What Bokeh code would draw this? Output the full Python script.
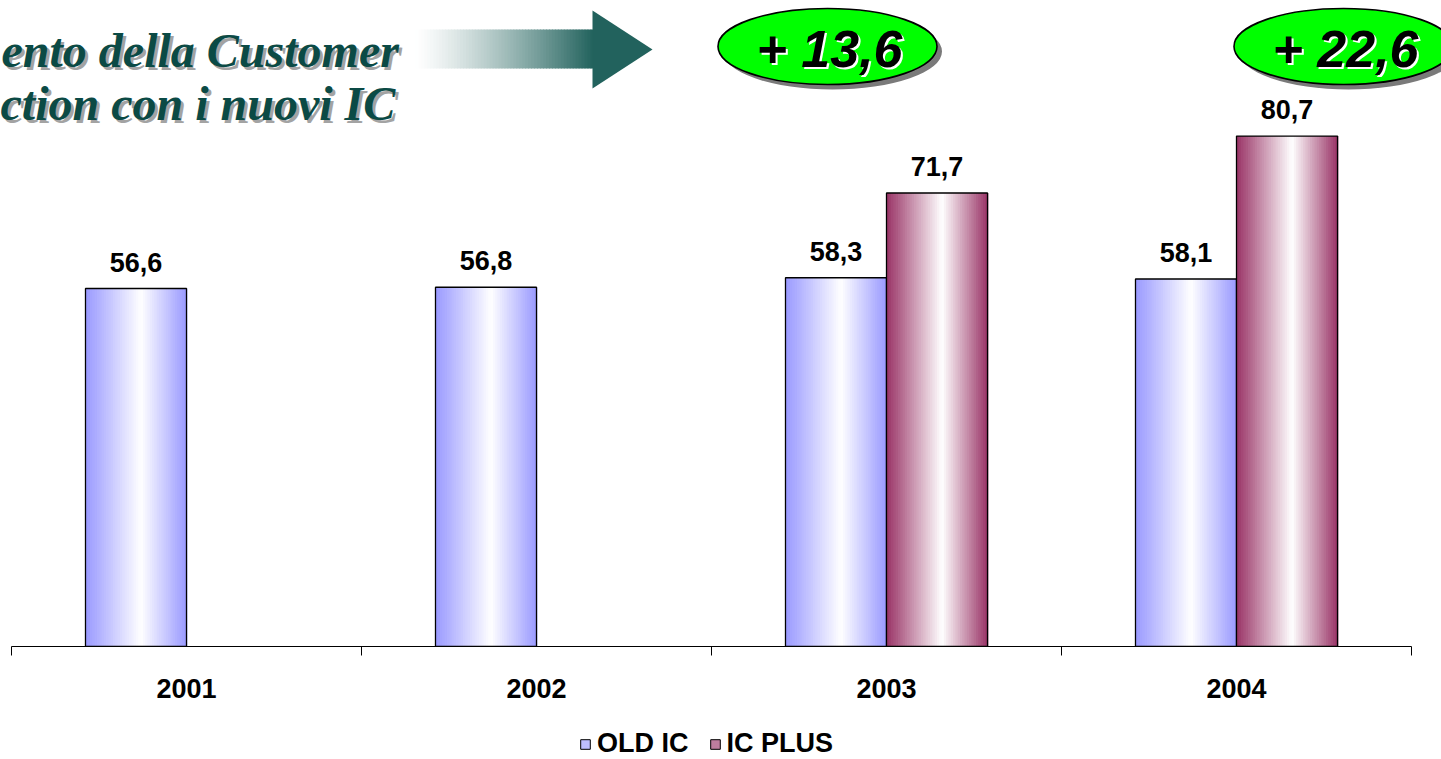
import numpy as np
from bokeh.plotting import figure
from bokeh.layouts import column
from bokeh.models import Range1d, LinearAxis, FixedTicker, Legend, LegendItem
from bokeh.core.properties import value
from bokeh.embed import file_html
from bokeh.resources import INLINE

# ---- data -------------------------------------------------------------
years = ["2001", "2002", "2003", "2004"]
old_ic = [56.6, 56.8, 58.3, 58.1]
ic_plus = [None, None, 71.7, 80.7]
series_names = ["OLD IC", "IC PLUS"]
title_lines = ["ento della Customer", "ction con i nuovi IC"]

# ---- layout -----------------------------------------------------------
W, H = 1441, 759
FRAME_H = 646          # baseline of the bars, in canvas pixels
CHART_H = 713          # chart figure height (frame + category axis)
X0_PX = 11             # left end of the category axis
CAT_PX = 350           # width of one category in pixels
Y_PX = 6.325           # pixels per value unit
BAR_W = 0.2886         # bar width as a fraction of a category
N_STRIPS = 44
LABEL_PX = "27px"

SANS = value("Liberation Sans")
SERIF = value("Liberation Serif")


def dx(px):
    """canvas x pixel -> data x (category centres sit at 1, 2, 3, 4)"""
    return 0.5 + (px - X0_PX) / CAT_PX


def dy(py):
    """canvas y pixel -> data y"""
    return (FRAME_H - py) / Y_PX


def hex_to_rgb(h):
    h = h.lstrip("#")
    return np.array([int(h[i:i + 2], 16) for i in (0, 2, 4)], dtype=float)


def rgb_to_hex(c):
    c = np.clip(np.round(c), 0, 255).astype(int)
    return "#%02x%02x%02x" % tuple(c)


def cylinder_color(edge, t, white_at=0.55):
    """horizontal shading: edge colour at both sides, white near the middle"""
    e = hex_to_rgb(edge)
    w = np.array([255.0, 255.0, 255.0])
    if t < white_at:
        s = (white_at - t) / white_at
    else:
        s = (t - white_at) / (1 - white_at)
    s = min(1.0, max(0.0, s))
    return rgb_to_hex(w + (e - w) * s)


p = figure(width=W, height=CHART_H,
           x_range=Range1d(dx(0), dx(W)), y_range=Range1d(0, FRAME_H / Y_PX),
           output_backend="svg", toolbar_location=None,
           x_axis_type=None, y_axis_type=None,
           min_border_left=0, min_border_right=0, min_border_top=0,
           min_border_bottom=CHART_H - FRAME_H)
p.outline_line_color = None
p.background_fill_color = "white"
p.border_fill_color = "white"

# ---- bars ---------------------------------------------------------------
series_edges = ["#9999ff", "#993366"]
series_side = [-1, 0]
for vals, edge, side in zip([old_ic, ic_plus], series_edges, series_side):
    L, R, T, C = [], [], [], []
    ol, orr, ot = [], [], []
    lx, ly, lt = [], [], []
    for i, v in enumerate(vals):
        if v is None:
            continue
        center = i + 1
        left = center + side * BAR_W
        right = left + BAR_W
        step = BAR_W / N_STRIPS
        for k in range(N_STRIPS):
            L.append(left + k * step)
            R.append(left + (k + 1) * step + step * 0.35)
            T.append(v)
            C.append(cylinder_color(edge, (k + 0.5) / N_STRIPS))
        ol.append(left); orr.append(right); ot.append(v)
        lx.append((left + right) / 2); ly.append(v)
        lt.append(f"{v:.1f}".replace(".", ","))
    p.quad(left=L, right=R, top=T, bottom=0, fill_color=C, line_color=None)
    p.quad(left=ol, right=orr, top=ot, bottom=0, fill_color=None,
           line_color="black", line_width=1.3)
    p.text(x=lx, y=ly, text=lt, text_align="center", text_baseline="bottom",
           y_offset=-17, text_font=SANS, text_font_style="bold",
           text_font_size=LABEL_PX, text_color="black")

# ---- category axis --------------------------------------------------------
centers = [i + 1 for i in range(len(years))]
bounds = [i + 0.5 for i in range(len(years) + 1)]
xaxis = LinearAxis(ticker=FixedTicker(ticks=centers, minor_ticks=bounds),
                   major_label_overrides={c: y for c, y in zip(centers, years)},
                   bounds=(bounds[0], bounds[-1]))
xaxis.axis_line_color = "black"
xaxis.axis_line_width = 1.2
xaxis.major_tick_line_color = None
xaxis.major_tick_out = 0
xaxis.major_tick_in = 0
xaxis.minor_tick_line_color = "black"
xaxis.minor_tick_out = 9
xaxis.minor_tick_in = 0
xaxis.major_label_standoff = 23
xaxis.major_label_text_font = "Liberation Sans"
xaxis.major_label_text_font_style = "bold"
xaxis.major_label_text_font_size = LABEL_PX
xaxis.major_label_text_color = "black"
p.add_layout(xaxis, "below")

# ---- title with drop shadow ---------------------------------------------------
title_left = [1, 0]
title_base = [50, 103]
for off, col in [(3, "#a3a3a3"), (0, "#0b4a45")]:
    p.text(x=[dx(x) for x in title_left], y=[dy(y) for y in title_base],
           text=title_lines, text_align="left", text_baseline="alphabetic",
           x_offset=off, y_offset=off, text_font=SERIF,
           text_font_style="bold italic", text_font_size="48px", text_color=col)

# ---- arrow: fading shaft and solid head ---------------------------------------
arrow_col = "#22625d"
shaft_l, shaft_r, shaft_t, shaft_b = 415, 593, 29, 68
n_a = 60
sx = np.linspace(shaft_l, shaft_r, n_a + 1)
a_cols = []
for k in range(n_a):
    t = ((k + 0.5) / n_a) ** 1.25
    a_cols.append(rgb_to_hex(np.array([255.0] * 3) + (hex_to_rgb(arrow_col) - 255.0) * t))
p.quad(left=[dx(v) for v in sx[:-1]], right=[dx(v + 0.8) for v in sx[1:]],
       top=[dy(shaft_t)] * n_a, bottom=[dy(shaft_b)] * n_a,
       fill_color=a_cols, line_color=None)
p.patch(x=[dx(592), dx(652), dx(592)], y=[dy(10), dy(49), dy(88)],
        fill_color=arrow_col, line_color=None)

# ---- increase bubbles -----------------------------------------------------------
deltas = [v - old_ic[-1] for v in ic_plus if v is not None]
bubble_txt = ["+ " + f"{d:.1f}".replace(".", ",") for d in deltas]
bubble_cx = [dx(827), dx(1343)]
bubble_cy = [dy(46)] * len(deltas)
p.ellipse(x=[x + 5 / CAT_PX for x in bubble_cx], y=[y - 5 / Y_PX for y in bubble_cy],
          width=219, height=76, width_units="screen", height_units="screen",
          fill_color="#7a7a7a", line_color=None)
p.ellipse(x=bubble_cx, y=bubble_cy, width=219, height=76,
          width_units="screen", height_units="screen",
          fill_color="#00ff00", line_color="black", line_width=1.6)
for off, col in [(2, "white"), (0, "black")]:
    p.text(x=bubble_cx, y=bubble_cy, text=bubble_txt, text_align="center",
           text_baseline="middle", x_offset=off + 2, y_offset=off + 2,
           text_font=SANS, text_font_style="bold italic",
           text_font_size="52px", text_color=col)

# ---- legend strip below the chart -------------------------------------------------
lg = figure(width=W, height=H - CHART_H, x_range=Range1d(0, 1), y_range=Range1d(0, 1),
            output_backend="svg", toolbar_location=None,
            x_axis_type=None, y_axis_type=None,
            min_border_left=0, min_border_right=0, min_border_top=0, min_border_bottom=0)
lg.outline_line_color = None
items = []
for name, edge in zip(series_names, series_edges):
    sw = lg.quad(left=[5], right=[6], top=[5], bottom=[4],
                 fill_color=cylinder_color(edge, 0.2), line_color="black", line_width=1)
    items.append(LegendItem(label=name, renderers=[sw]))
legend = Legend(items=items, orientation="horizontal", location=(579, 0),
                label_text_font="Liberation Sans", label_text_font_style="bold",
                label_text_font_size=LABEL_PX, label_text_color="black",
                glyph_width=12, glyph_height=12, label_standoff=6, spacing=20,
                border_line_color=None, background_fill_alpha=0,
                margin=0, padding=0)
lg.add_layout(legend)

open("out.html", "w").write(file_html(column(p, lg, spacing=0), INLINE))
